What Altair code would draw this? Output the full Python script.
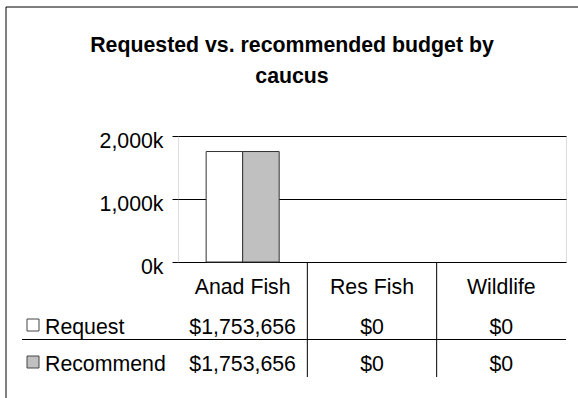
import altair as alt
import pandas as pd

# ---- data ----
categories = ["Anad Fish", "Res Fish", "Wildlife"]
series = ["Request", "Recommend"]
request_values = [1753656, 0, 0]
recommend_values = [1753656, 0, 0]
y_ticks = [0, 1000000, 2000000]
title_lines = ["Requested vs. recommended budget by", "caucus"]
series_colors = ["#ffffff", "#c0c0c0"]

rows = []
for s, vals in zip(series, [request_values, recommend_values]):
    for c, v in zip(categories, vals):
        rows.append({"caucus": c, "series": s, "value": v, "label": "${:,.0f}".format(v)})
df = pd.DataFrame(rows)

FONT = "Liberation Sans"
FS = 21.3
W, H = 388, 126

x_scale = alt.Scale(type="band", domain=categories, paddingInner=0, paddingOuter=0)
xo_scale = alt.Scale(type="band", domain=series, paddingInner=0, paddingOuter=0.771)
color_scale = alt.Scale(domain=series, range=series_colors)

bars = alt.Chart(df).transform_filter(alt.datum.value > 0).mark_bar(
    stroke="#333333", strokeWidth=1).encode(
    x=alt.X("caucus:N", scale=x_scale, sort=categories,
            axis=alt.Axis(title=None, ticks=False, tickSize=0, domain=False,
                          labelAngle=0, labelFontSize=FS, labelFont=FONT,
                          labelColor="black", labelPadding=31,
                          labelBaseline="alphabetic")),
    xOffset=alt.XOffset("series:N", scale=xo_scale, sort=series),
    y=alt.Y("value:Q", scale=alt.Scale(domain=[0, 2000000], nice=False),
            axis=alt.Axis(title=None, values=y_ticks,
                          labelExpr="format(datum.value / 1000, ',') + 'k'",
                          grid=True, gridColor="black", gridWidth=1,
                          tickColor="black", tickSize=6, domain=False,
                          labelFontSize=FS, labelFont=FONT, labelColor="black",
                          labelPadding=9, labelOffset=5)),
    color=alt.Color("series:N", scale=color_scale, legend=None),
)

one = alt.Data(values=[{"k": 0}])

layers = [bars]

# outer chart border
layers.append(alt.Chart(one).mark_rect(fillOpacity=0, stroke="black", strokeWidth=1).encode(
    x=alt.value(-172), x2=alt.value(420), y=alt.value(-129), y2=alt.value(290)))

# title
for i, (line, yb) in enumerate(zip(title_lines, [-84, -53])):
    layers.append(alt.Chart(one).mark_text(
        font=FONT, fontSize=FS, fontWeight="bold", align="center",
        baseline="alphabetic", color="black").encode(
        x=alt.value(114), y=alt.value(yb), text=alt.value(line)))

# data table
row_base = [198, 235]
sq_top = [183, 220]
for i, s in enumerate(series):
    layers.append(alt.Chart(df).transform_filter(alt.datum.series == s).mark_text(
        font=FONT, fontSize=FS, baseline="alphabetic", color="black").encode(
        x=alt.X("caucus:N", scale=x_scale, sort=categories),
        y=alt.value(row_base[i]), text="label:N"))
    layers.append(alt.Chart(one).mark_text(
        font=FONT, fontSize=FS, baseline="alphabetic", align="left", color="black").encode(
        x=alt.value(-133), y=alt.value(row_base[i]), text=alt.value(s)))
    layers.append(alt.Chart(one).mark_rect(stroke="#444444", strokeWidth=1, fill=series_colors[i]).encode(
        x=alt.value(-151), x2=alt.value(-139), y=alt.value(sq_top[i]), y2=alt.value(sq_top[i] + 12)))

# horizontal separator under first row
layers.append(alt.Chart(one).mark_rule(color="black", strokeWidth=1).encode(
    x=alt.value(-156), x2=alt.value(W), y=alt.value(203.5)))

# vertical column separators
bounds = pd.DataFrame({"caucus": categories[1:]})
layers.append(alt.Chart(bounds).mark_rule(color="black", strokeWidth=1).encode(
    x=alt.X("caucus:N", scale=x_scale, sort=categories, bandPosition=0),
    y=alt.value(H), y2=alt.value(241)))

chart = alt.layer(*layers).properties(
    width=W, height=H,
    autosize=alt.AutoSizeParams(type="none"),
    padding={"left": 178, "top": 136, "right": 12, "bottom": 136},
    background="white",
).configure_view(stroke="black", strokeWidth=1).configure(font=FONT)

chart.save("out.html", embed_options={"renderer": "svg", "actions": False})
